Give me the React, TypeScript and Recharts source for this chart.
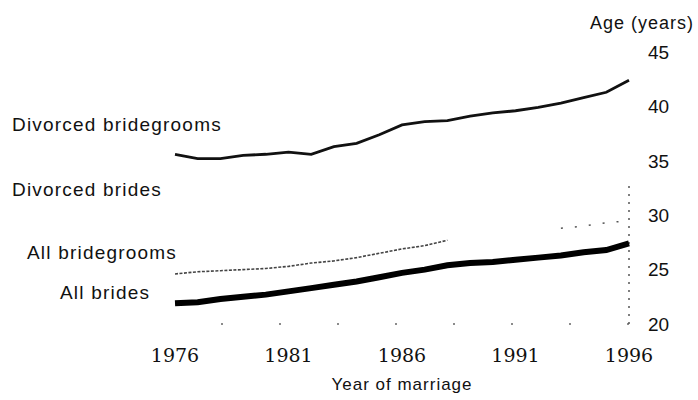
import React from "react";
import {
  LineChart,
  Line,
  XAxis,
  YAxis,
  ReferenceLine,
  Label,
} from "recharts";

// Years of marriage and mean ages
const years = [
  1976, 1977, 1978, 1979, 1980, 1981, 1982, 1983, 1984, 1985, 1986, 1987,
  1988, 1989, 1990, 1991, 1992, 1993, 1994, 1995, 1996,
];
const divorcedBridegrooms = [
  35.6, 35.2, 35.2, 35.5, 35.6, 35.8, 35.6, 36.3, 36.6, 37.4, 38.3, 38.6,
  38.7, 39.1, 39.4, 39.6, 39.9, 40.3, 40.8, 41.3, 42.4,
];
// the scan only shows this line up to 1988 and a few dots near the end
const allBridegrooms = [
  24.6, 24.8, 24.9, 25.0, 25.1, 25.3, 25.6, 25.8, 26.1, 26.5, 26.9, 27.2,
  27.7, null, null, null, null, 28.8, 29.0, 29.3, 29.5,
];
const allBrides = [
  21.9, 22.0, 22.3, 22.5, 22.7, 23.0, 23.3, 23.6, 23.9, 24.3, 24.7, 25.0,
  25.4, 25.6, 25.7, 25.9, 26.1, 26.3, 26.6, 26.8, 27.4,
];
const xTicks = [1976, 1981, 1986, 1991, 1996];
const yTicks = [20, 25, 30, 35, 40, 45];
const seriesLabels = [
  "Divorced bridegrooms",
  "Divorced brides",
  "All bridegrooms",
  "All brides",
];

const data = years.map((year, i) => ({
  year,
  divorcedBridegrooms: divorcedBridegrooms[i],
  bridegroomsEarly: year <= 1988 ? allBridegrooms[i] : null,
  bridegroomsLate: year >= 1993 ? allBridegrooms[i] : null,
  allBrides: allBrides[i],
}));

const labelStyle: React.CSSProperties = {
  position: "absolute",
  fontFamily: "'Liberation Sans', Arial, sans-serif",
  fontSize: 19,
  letterSpacing: 1.2,
  color: "#111",
  whiteSpace: "nowrap",
  lineHeight: "19px",
};

// left edge and top of each series label
const labelPos = [
  { left: 12, top: 115 },
  { left: 12, top: 180 },
  { left: 27, top: 243 },
  { left: 60, top: 283 },
];

export default function App() {
  return (
    <div
      style={{
        position: "absolute",
        left: 0,
        top: 0,
        width: 698,
        height: 400,
        background: "#fff",
      }}
    >
      <LineChart
        width={698}
        height={400}
        data={data}
        margin={{ top: 52, right: 0, bottom: 0, left: 175 }}
      >
        <XAxis
          dataKey="year"
          type="number"
          domain={[1976, 1996]}
          ticks={xTicks}
          axisLine={false}
          tickLine={false}
          tickSize={0}
          tickMargin={25}
          height={76}
          tick={{
            fill: "#111",
            fontSize: 19,
            fontFamily: "'DejaVu Serif', serif",
          }}
        >
          <Label
            value="Year of marriage"
            position="insideBottom"
            offset={10}
            style={{
              fill: "#111",
              fontSize: 17,
              fontFamily: "'Liberation Sans', Arial, sans-serif",
              letterSpacing: 1,
            }}
          />
        </XAxis>
        <YAxis
          orientation="right"
          type="number"
          domain={[20, 45]}
          ticks={yTicks}
          width={69}
          axisLine={false}
          tickLine={false}
          tickSize={0}
          tickMargin={19}
          tick={{
            fill: "#111",
            fontSize: 19,
            fontFamily: "'Liberation Sans', Arial, sans-serif",
          }}
        />
        <ReferenceLine
          y={20}
          stroke="#666"
          strokeWidth={1.5}
          strokeDasharray="2 56"
        />
        <ReferenceLine
          segment={[
            { x: 1996, y: 20 },
            { x: 1996, y: 33 },
          ]}
          stroke="#555"
          strokeWidth={1.5}
          strokeDasharray="2 6"
        />
        <Line
          dataKey="divorcedBridegrooms"
          stroke="#111"
          strokeWidth={2.8}
          dot={false}
          isAnimationActive={false}
        />
        <Line
          dataKey="bridegroomsEarly"
          stroke="#444"
          strokeWidth={1.6}
          strokeDasharray="3 1.5"
          dot={false}
          isAnimationActive={false}
        />
        <Line
          dataKey="bridegroomsLate"
          stroke="#555"
          strokeWidth={1.5}
          strokeDasharray="2 12"
          dot={false}
          isAnimationActive={false}
        />
        <Line
          dataKey="allBrides"
          stroke="#000"
          strokeWidth={6}
          dot={false}
          isAnimationActive={false}
        />
      </LineChart>
      {seriesLabels.map((text, i) => (
        <div key={text} style={{ ...labelStyle, ...labelPos[i] }}>
          {text}
        </div>
      ))}
      <div
        style={{
          ...labelStyle,
          left: 590,
          top: 14,
          fontSize: 18,
          letterSpacing: 1,
          lineHeight: "18px",
        }}
      >
        Age (years)
      </div>
    </div>
  );
}
